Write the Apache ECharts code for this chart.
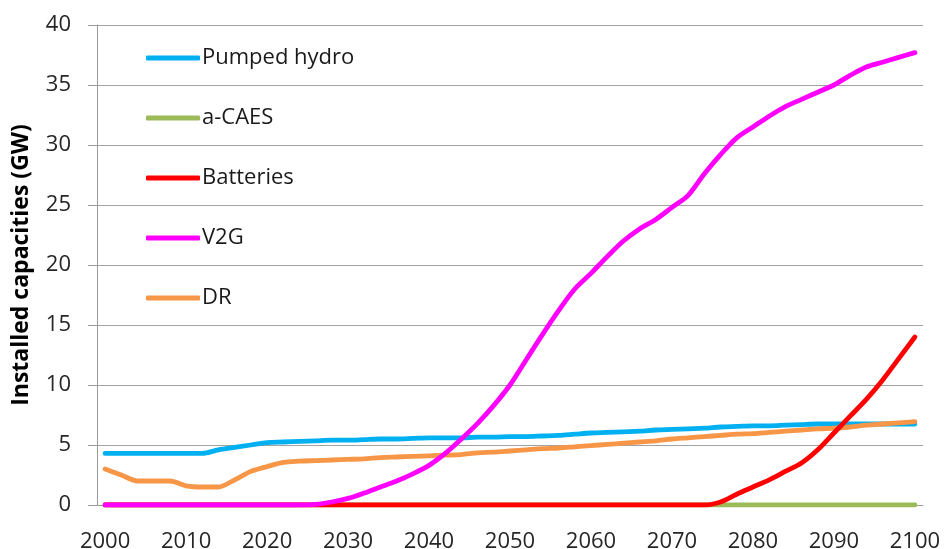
<!DOCTYPE html>
<html>
<head>
<meta charset="utf-8">
<script src="https://cdn.jsdelivr.net/npm/echarts@6/dist/echarts.min.js"></script>
<style>
  html, body { margin: 0; padding: 0; background: #fff; }
  #main { width: 944px; height: 549px; }
</style>
</head>
<body>
<div id="main"></div>
<script>
// years, one point every 2 years
var years = [
  "2000", "2002", "2004", "2006", "2008", "2010", "2012", "2014", "2016", "2018",
  "2020", "2022", "2024", "2026", "2028", "2030", "2032", "2034", "2036", "2038",
  "2040", "2042", "2044", "2046", "2048", "2050", "2052", "2054", "2056", "2058",
  "2060", "2062", "2064", "2066", "2068", "2070", "2072", "2074", "2076", "2078",
  "2080", "2082", "2084", "2086", "2088", "2090", "2092", "2094", "2096", "2098",
  "2100"
];

var pumpedHydro = [
  4.3, 4.3, 4.3, 4.3, 4.3, 4.3, 4.3, 4.6, 4.8, 5.0,
  5.2, 5.25, 5.3, 5.35, 5.4, 5.4, 5.45, 5.5, 5.5, 5.55,
  5.6, 5.6, 5.6, 5.65, 5.65, 5.7, 5.7, 5.75, 5.8, 5.9,
  6.0, 6.05, 6.1, 6.15, 6.25, 6.3, 6.35, 6.4, 6.5, 6.55,
  6.6, 6.6, 6.65, 6.7, 6.75, 6.75, 6.75, 6.75, 6.75, 6.75,
  6.75
];

var aCaes = [
  0, 0, 0, 0, 0, 0, 0, 0, 0, 0,
  0, 0, 0, 0, 0, 0, 0, 0, 0, 0,
  0, 0, 0, 0, 0, 0, 0, 0, 0, 0,
  0, 0, 0, 0, 0, 0, 0, 0, 0, 0,
  0, 0, 0, 0, 0, 0, 0, 0, 0, 0,
  0
];

var batteries = [
  0, 0, 0, 0, 0, 0, 0, 0, 0, 0,
  0, 0, 0, 0, 0, 0, 0, 0, 0, 0,
  0, 0, 0, 0, 0, 0, 0, 0, 0, 0,
  0, 0, 0, 0, 0, 0, 0, 0, 0.25, 0.9,
  1.5, 2.1, 2.8, 3.5, 4.6, 6.0, 7.4, 8.8, 10.4, 12.2,
  14.0
];

var v2g = [
  0, 0, 0, 0, 0, 0, 0, 0, 0, 0,
  0, 0, 0, 0.05, 0.25, 0.55, 1.0, 1.5, 2.0, 2.6,
  3.3, 4.3, 5.5, 6.8, 8.3, 10.0, 12.1, 14.2, 16.2, 18.0,
  19.3, 20.7, 22.0, 23.0, 23.8, 24.8, 25.8, 27.6, 29.2, 30.6,
  31.5, 32.4, 33.2, 33.8, 34.4, 35.0, 35.8, 36.5, 36.9, 37.3,
  37.7
];

var dr = [
  3.0, 2.5, 2.0, 2.0, 2.0, 1.6, 1.5, 1.5, 2.1, 2.8,
  3.2, 3.55, 3.65, 3.7, 3.75, 3.8, 3.85, 3.95, 4.0, 4.05,
  4.1, 4.15, 4.2, 4.35, 4.4, 4.5, 4.6, 4.7, 4.75, 4.85,
  4.95, 5.05, 5.15, 5.25, 5.35, 5.5, 5.6, 5.7, 5.8, 5.9,
  5.95, 6.05, 6.15, 6.25, 6.35, 6.4, 6.5, 6.65, 6.75, 6.85,
  6.95
];

var font = "'Open Sans', sans-serif";

function line(name, data, color) {
  return {
    name: name,
    type: "line",
    data: data,
    symbol: "none",
    smooth: 0.3,
    color: color,
    lineStyle: { color: color, width: 4.8, cap: "round", join: "round" },
  };
}

var chart = echarts.init(document.getElementById("main"));
chart.setOption({
  animation: false,
  grid: { left: 97, right: 21, top: 25, bottom: 44, outerBoundsMode: "none" },
  legend: {
    orient: "vertical",
    left: 146,
    top: 43,
    padding: 0,
    icon: "roundRect",
    itemWidth: 54,
    itemHeight: 5,
    itemGap: 30,
    data: ["Pumped hydro", "a-CAES", "Batteries", "V2G", "DR"],
    textStyle: { fontFamily: font, fontSize: 22, lineHeight: 30, color: "#1a1a1a", padding: [0, 0, 0, -3] },
  },
  xAxis: {
    type: "category",
    data: years,
    boundaryGap: true,
    axisLine: { lineStyle: { color: "#9a9a9a", width: 1 } },
    axisTick: { interval: 4, length: 9, lineStyle: { color: "#9a9a9a" } },
    axisLabel: {
      interval: 4,
      margin: 26,
      fontFamily: font,
      fontSize: 22,
      color: "#262626",
    },
  },
  yAxis: {
    type: "value",
    min: 0,
    max: 40,
    interval: 5,
    name: "Installed capacities (GW)",
    nameLocation: "middle",
    nameGap: 64,
    nameTextStyle: { fontFamily: font, fontSize: 23, fontWeight: "bold", color: "#000" },
    axisLine: { show: true, lineStyle: { color: "#9a9a9a", width: 1 } },
    axisTick: { show: true, length: 9, lineStyle: { color: "#9a9a9a" } },
    axisLabel: { margin: 26, fontFamily: font, fontSize: 22, color: "#262626" },
    splitLine: { lineStyle: { color: "#a3a3a3", width: 1.2 } },
  },
  series: [
    line("Pumped hydro", pumpedHydro, "#00b0f0"),
    line("a-CAES", aCaes, "#9bbb59"),
    line("DR", dr, "#f79646"),
    line("Batteries", batteries, "#ff0000"),
    line("V2G", v2g, "#ff00ff"),
  ],
});
</script>
</body>
</html>
